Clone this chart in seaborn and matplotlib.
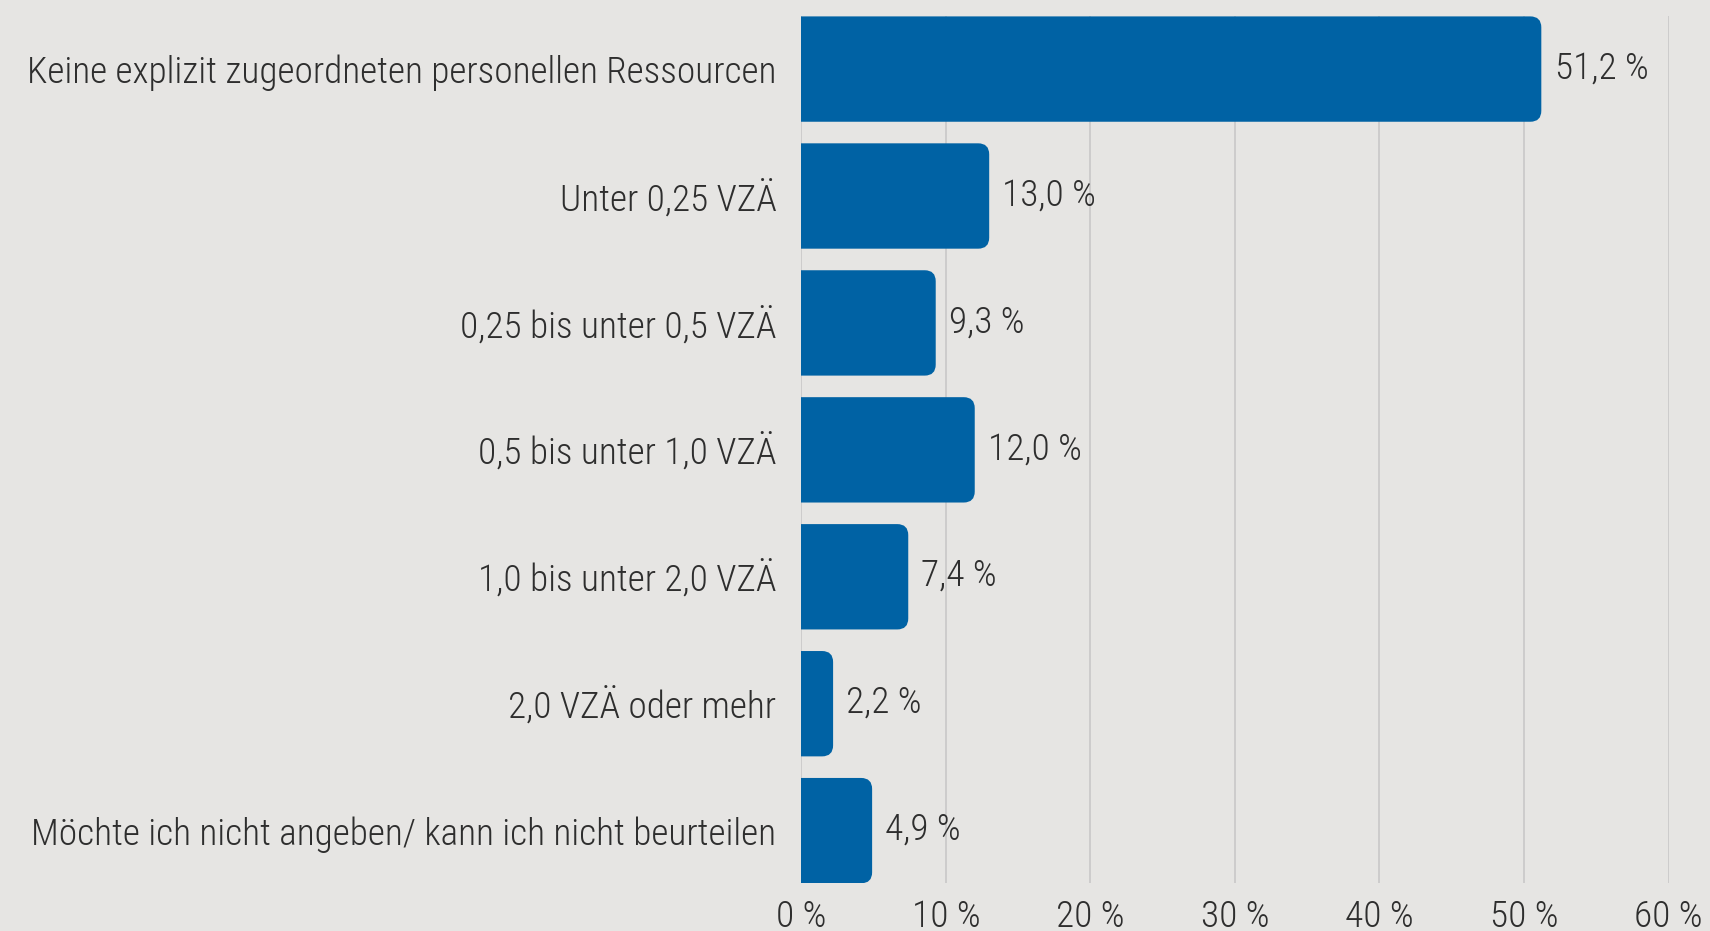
import matplotlib
matplotlib.use("Agg")
import matplotlib.pyplot as plt
from matplotlib.patches import FancyBboxPatch
from matplotlib.ticker import FuncFormatter
import seaborn as sns
import pandas as pd

categories = [
    "Keine explizit zugeordneten personellen Ressourcen",
    "Unter 0,25 VZÄ",
    "0,25 bis unter 0,5 VZÄ",
    "0,5 bis unter 1,0 VZÄ",
    "1,0 bis unter 2,0 VZÄ",
    "2,0 VZÄ oder mehr",
    "Möchte ich nicht angeben/ kann ich nicht beurteilen",
]
values = [51.2, 13.0, 9.3, 12.0, 7.4, 2.2, 4.9]
x_ticks = [0, 10, 20, 30, 40, 50, 60]

BG = "#e6e5e3"
BAR = "#0062a4"
TXT = "#2e2e2e"
GRID = "#c8c8c8"
FS = 26.8

sns.set_theme(style="white")
plt.rcParams["font.family"] = ["Roboto Condensed", "DejaVu Sans"]
plt.rcParams["font.weight"] = 300

W, H = 1710, 931
fig = plt.figure(figsize=(W / 100, H / 100), dpi=100, facecolor=BG)
left, right, top, bottom = 801.3, 1668.5, 16.4, 883.3
ax = fig.add_axes([left / W, (H - bottom) / H, (right - left) / W, (bottom - top) / H])
ax.set_facecolor(BG)

df = pd.DataFrame({"cat": categories, "val": values})
sns.barplot(data=df, x="val", y="cat", orient="h", color=BAR, width=0.83,
            saturation=1, ax=ax, zorder=3)

ax.set_xlim(0, 60)
ax.set_ylim(6.415, -0.415)

# rounded right corners (left side clipped at axis)
px_x = (right - left) / 60.0
px_y = (bottom - top) / 6.83
r_px = 11
rx = r_px / px_x
ry = r_px / px_y
for p in list(ax.patches):
    x0, y0, w, h = p.get_x(), p.get_y(), p.get_width(), p.get_height()
    p.set_visible(False)
    fb = FancyBboxPatch((x0 - rx, y0), w + rx, h,
                        boxstyle=f"round,pad=0,rounding_size={rx}",
                        mutation_aspect=ry / rx, facecolor=BAR, edgecolor="none",
                        zorder=3, clip_on=True)
    ax.add_patch(fb)

for i, v in enumerate(values):
    ax.annotate(f"{v:.1f} %".replace(".", ","), xy=(v, i), xytext=(9.5, 0.5),
                textcoords="offset points", va="center", ha="left",
                fontsize=FS, color=TXT, fontweight=300)

ax.set_xticks(x_ticks)
ax.xaxis.set_major_formatter(FuncFormatter(lambda v, _: f"{int(v)} %"))
ax.grid(axis="x", color=GRID, linewidth=1.2, zorder=0)
ax.grid(axis="y", visible=False)
ax.set_axisbelow(True)
for s in ax.spines.values():
    s.set_visible(False)
ax.tick_params(axis="x", length=0, pad=11.5, labelsize=FS, labelcolor=TXT)
ax.tick_params(axis="y", length=0, pad=18, labelsize=FS, labelcolor=TXT)
ax.set_xlabel("")
ax.set_ylabel("")

fig.savefig("out.png", dpi=100, facecolor=BG)
